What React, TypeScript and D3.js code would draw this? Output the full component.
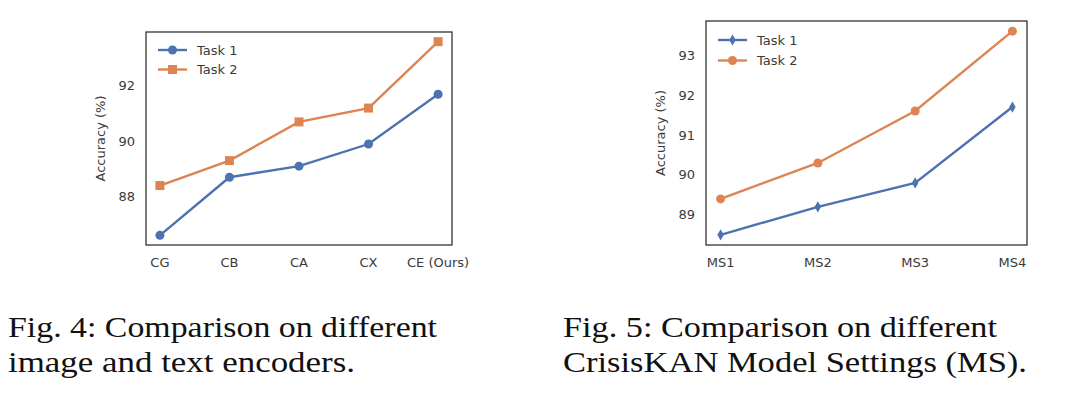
import React from 'react';
import * as d3 from 'd3';

// Fig. 4 data
const encoders = ['CG', 'CB', 'CA', 'CX', 'CE (Ours)'];
const encTask1 = [86.6, 88.7, 89.1, 89.9, 91.7];
const encTask2 = [88.4, 89.3, 90.7, 91.2, 93.6];
const encTicks = [88, 90, 92];

// Fig. 5 data
const settings = ['MS1', 'MS2', 'MS3', 'MS4'];
const msTask1 = [88.5, 89.2, 89.8, 91.7];
const msTask2 = [89.4, 90.3, 91.6, 93.6];
const msTicks = [89, 90, 91, 92, 93];

const seriesNames = ['Task 1', 'Task 2'];
const BLUE = '#4C72B0';
const ORANGE = '#DD8452';
const TEXT = '#3a3a3a';
const SANS = '"DejaVu Sans", sans-serif';
const SERIF = '"Liberation Serif", "DejaVu Serif", serif';
const FS = 13;

type Marker = 'circle' | 'square' | 'diamond';

const Mark = ({ type, x, y, color, size }: { type: Marker; x: number; y: number; color: string; size: number }) => {
  if (type === 'circle') return <circle cx={x} cy={y} r={size} fill={color} />;
  if (type === 'square') return <rect x={x - size} y={y - size} width={size * 2} height={size * 2} fill={color} />;
  const sym = d3.symbol().type(d3.symbolDiamond).size(size * size * 4)();
  return <path d={sym || ''} transform={`translate(${x},${y})`} fill={color} />;
};

interface ChartProps {
  left: number; right: number; top: number; bottom: number;
  cats: string[]; s1: number[]; s2: number[]; ticks: number[];
  markers: [Marker, Marker]; sizes: [number, number];
  legendX: number; legendY: number; legendGap: number;
}

const Chart = ({ left, right, top, bottom, cats, s1, s2, ticks, markers, sizes, legendX, legendY, legendGap }: ChartProps) => {
  const n = cats.length - 1;
  const x = d3.scaleLinear().domain([-0.05 * n, n * 1.05]).range([left, right]);
  const [lo, hi] = d3.extent([...s1, ...s2]) as [number, number];
  const pad = (hi - lo) * 0.05;
  const y = d3.scaleLinear().domain([lo - pad, hi + pad]).range([bottom, top]);
  const line = d3.line<number>().x((_, i) => x(i)).y(d => y(d));
  const series = [
    { name: seriesNames[0], vals: s1, color: BLUE, marker: markers[0], size: sizes[0] },
    { name: seriesNames[1], vals: s2, color: ORANGE, marker: markers[1], size: sizes[1] },
  ];
  return (
    <g>
      {ticks.map(t => (
        <text key={t} x={left - 11} y={y(t)} dy="0.35em" textAnchor="end" fontSize={FS} fill={TEXT} fontFamily={SANS}>{t}</text>
      ))}
      {cats.map((c, i) => (
        <text key={c} x={x(i)} y={bottom + 22} textAnchor="middle" fontSize={FS} fill={TEXT} fontFamily={SANS}>{c}</text>
      ))}
      <text transform={`translate(${left - 41},${(top + bottom) / 2}) rotate(-90)`} textAnchor="middle" fontSize={FS} fill={TEXT} fontFamily={SANS}>Accuracy (%)</text>
      {series.map(s => (
        <g key={s.name}>
          <path d={line(s.vals) || ''} fill="none" stroke={s.color} strokeWidth={2.4} />
          {s.vals.map((v, i) => <Mark key={i} type={s.marker} x={x(i)} y={y(v)} color={s.color} size={s.size} />)}
        </g>
      ))}
      <rect x={left} y={top} width={right - left} height={bottom - top} fill="none" stroke="#333" strokeWidth={1.3} />
      {series.map((s, i) => {
        const ly = legendY + i * legendGap;
        return (
          <g key={s.name}>
            <line x1={legendX} x2={legendX + 29} y1={ly} y2={ly} stroke={s.color} strokeWidth={2.4} />
            <Mark type={s.marker} x={legendX + 14.5} y={ly} color={s.color} size={s.size} />
            <text x={legendX + 39} y={ly} dy="0.35em" fontSize={FS} fill={TEXT} fontFamily={SANS}>{s.name}</text>
          </g>
        );
      })}
    </g>
  );
};

export default function App() {
  return (
    <svg width={1080} height={398} style={{ position: 'absolute', left: 0, top: 0, background: '#fff' }}>
      <Chart left={146} right={452} top={32} bottom={245} cats={encoders} s1={encTask1} s2={encTask2} ticks={encTicks}
        markers={['circle', 'square']} sizes={[4.5, 4.5]} legendX={158} legendY={50} legendGap={19.5} />
      <Chart left={706} right={1027} top={21} bottom={245} cats={settings} s1={msTask1} s2={msTask2} ticks={msTicks}
        markers={['diamond', 'circle']} sizes={[3, 4.5]} legendX={718} legendY={40} legendGap={20.5} />
      <g fontFamily={SERIF} fontSize={29} fill="#111">
        <text x={8} y={337} textLength={429} lengthAdjust="spacingAndGlyphs">Fig. 4: Comparison on different</text>
        <text x={8} y={372} textLength={347} lengthAdjust="spacingAndGlyphs">image and text encoders.</text>
        <text x={563} y={337} textLength={434} lengthAdjust="spacingAndGlyphs">Fig. 5: Comparison on different</text>
        <text x={563} y={372} textLength={464} lengthAdjust="spacingAndGlyphs">CrisisKAN Model Settings (MS).</text>
      </g>
    </svg>
  );
}
